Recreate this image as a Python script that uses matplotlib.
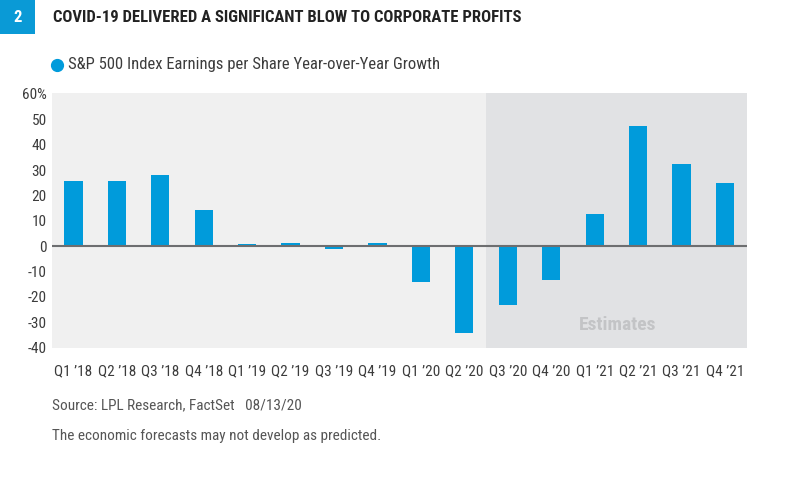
import matplotlib
matplotlib.use("Agg")
import matplotlib.pyplot as plt
from matplotlib.lines import Line2D
from matplotlib.patches import Rectangle

quarters = ["Q1 \u201918", "Q2 \u201918", "Q3 \u201918", "Q4 \u201918",
            "Q1 \u201919", "Q2 \u201919", "Q3 \u201919", "Q4 \u201919",
            "Q1 \u201920", "Q2 \u201920", "Q3 \u201920", "Q4 \u201920",
            "Q1 \u201921", "Q2 \u201921", "Q3 \u201921", "Q4 \u201921"]
eps_growth = [25.7, 25.7, 28.0, 14.1,
              0.8, 1.4, -1.2, 1.4,
              -14.1, -34.2, -23.2, -13.4,
              12.8, 47.5, 32.3, 25.0]
first_estimate = 10  # Q3 '20 onwards are estimates
yticks = [-40, -30, -20, -10, 0, 10, 20, 30, 40, 50, 60]
ytick_labels = ["-40", "-30", "-20", "-10", "0", "10", "20", "30", "40", "50", "60%"]

plt.rcParams['font.family'] = ['Roboto Condensed', 'DejaVu Sans']

blue = '#009bdb'
text_col = '#3c3c3c'

fig = plt.figure(figsize=(7.89, 4.84), dpi=100)
ax = fig.add_axes([0.0655, 0.2816, 0.8809, 0.5269])

ax.set_facecolor('#f0f0f0')
ax.axvspan(first_estimate - 0.5, len(quarters) - 0.5, color='#e1e2e4', lw=0, zorder=0)

x = range(len(quarters))
ax.bar(x, eps_growth, width=0.42, color=blue, zorder=2)
ax.axhline(0, color='#6d6e70', lw=1.5, zorder=3)

ax.set_xlim(-0.5, len(quarters) - 0.5)
ax.set_ylim(-39.1, 60.5)
ax.set_yticks(yticks)
ax.set_yticklabels(ytick_labels)
ax.set_xticks(list(x))
ax.set_xticklabels(quarters)
ax.tick_params(length=0, labelsize=11, colors=text_col)
ax.tick_params(axis='y', pad=3.5)
ax.tick_params(axis='x', pad=12)
for s in ax.spines.values():
    s.set_visible(False)

ax.text(12.52, -31, 'Estimates', ha='center', va='center', color='#c3c4c6',
        fontsize=14, fontweight='bold', zorder=1)

# header
fig.add_artist(Rectangle((0, 1 - 34 / 484), 35 / 789, 34 / 484,
                         transform=fig.transFigure, color='#0a9ad6', lw=0))
fig.text(17.5 / 789, 1 - 17 / 484, '2', ha='center', va='center', color='white',
         fontsize=12, fontweight='bold')
fig.text(53 / 789, 1 - 17 / 484, 'COVID-19 DELIVERED A SIGNIFICANT BLOW TO CORPORATE PROFITS',
         ha='left', va='center', color='#222222', fontsize=12, fontweight='bold')

# legend
fig.add_artist(Line2D([57 / 789], [1 - 65 / 484], marker='o', markersize=8.5,
                      color=blue, transform=fig.transFigure))
fig.text(68 / 789, 1 - 65 / 484, 'S&P 500 Index Earnings per Share Year-over-Year Growth',
         ha='left', va='center', color=text_col, fontsize=12)

# footnotes
fig.text(52 / 789, 1 - 405 / 484, 'Source: LPL Research, FactSet   08/13/20',
         ha='left', va='center', color='#555555', fontsize=11)
fig.text(52 / 789, 1 - 436 / 484, 'The economic forecasts may not develop as predicted.',
         ha='left', va='center', color='#555555', fontsize=11)

fig.savefig('out.png', dpi=100)
